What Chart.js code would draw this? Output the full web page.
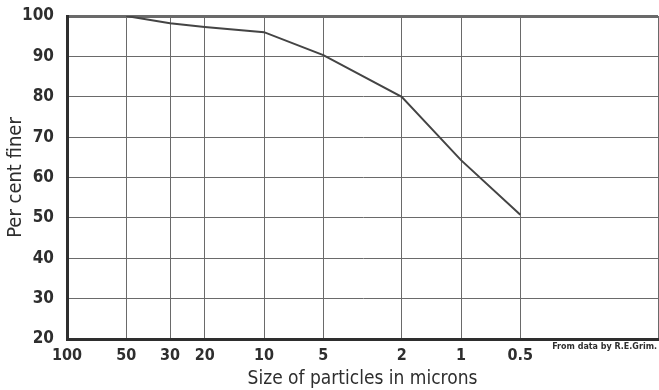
<!DOCTYPE html>
<html lang="en">
<head>
    <meta charset="UTF-8">
    <title>Per cent finer vs size of particles</title>
    <script src="https://cdn.jsdelivr.net/npm/chart.js"></script>
    <style>
        html, body { margin: 0; padding: 0; background: #ffffff; }
        .chart-box { position: relative; width: 659px; height: 390px; }
    </style>
</head>
<body>
    <div class="chart-box"><canvas id="grainChart" width="659" height="390"></canvas></div>

    <script>
        // particle sizes (microns) and cumulative per cent finer
        const sizes = [50, 30, 20, 10, 5, 2, 1, 0.5];
        const percentFiner = [100, 98.2, 97.3, 96, 90.3, 80, 64.3, 50.8];
        const xTicks = [100, 50, 30, 20, 10, 5, 2, 1, 0.5, 0.1];
        const yTicks = [20, 30, 40, 50, 60, 70, 80, 90, 100];
        const sourceNote = "From data by R.E.Grim.";

        const ink = "#2e2e2e";
        const gridInk = "#6a6a6a";
        const narrow = "'DejaVu Sans Condensed', 'Liberation Sans Narrow', 'Roboto Condensed', 'DejaVu Sans', sans-serif";

        const notePlugin = {
            id: "sourceNote",
            afterDraw(chart) {
                const ctx = chart.ctx;
                ctx.save();
                ctx.font = "bold 8px 'DejaVu Sans', sans-serif";
                ctx.fillStyle = ink;
                ctx.textAlign = "right";
                ctx.textBaseline = "top";
                ctx.fillText(sourceNote, chart.chartArea.right - 1, chart.chartArea.bottom + 4);
                ctx.restore();
            }
        };

        const ctx = document.getElementById("grainChart").getContext("2d");
        const grainChart = new Chart(ctx, {
            type: "line",
            data: {
                datasets: [{
                    data: sizes.map((s, i) => ({ x: s, y: percentFiner[i] })),
                    borderColor: "#444444",
                    borderWidth: 2,
                    pointRadius: 0,
                    tension: 0,
                    fill: false
                }]
            },
            options: {
                responsive: false,
                animation: false,
                layout: { padding: { top: 16, right: 1, left: 0, bottom: 0 } },
                plugins: {
                    legend: { display: false },
                    tooltip: { enabled: false }
                },
                scales: {
                    x: {
                        type: "logarithmic",
                        reverse: true,
                        min: 0.1,
                        max: 100,
                        afterBuildTicks(scale) {
                            scale.ticks = xTicks.map(v => ({ value: v }));
                        },
                        afterFit(scale) {
                            scale.height = 51;
                            scale.paddingLeft = 0;
                            scale.paddingRight = 0;
                        },
                        ticks: {
                            autoSkip: false,
                            maxRotation: 0,
                            color: ink,
                            padding: 7,
                            font: { family: narrow, size: 16, weight: "bold" },
                            callback: v => (v === 0.1 ? "" : String(v))
                        },
                        grid: {
                            color: gridInk,
                            lineWidth: 1,
                            drawTicks: false
                        },
                        border: { color: ink, width: 3 },
                        title: {
                            display: true,
                            text: "Size of particles in microns",
                            color: ink,
                            padding: { top: 0, bottom: 0 },
                            font: { family: narrow, size: 19 }
                        }
                    },
                    y: {
                        min: 20,
                        max: 100,
                        afterBuildTicks(scale) {
                            scale.ticks = yTicks.map(v => ({ value: v }));
                        },
                        afterFit(scale) {
                            scale.width = 67;
                            scale.paddingTop = 0;
                            scale.paddingBottom = 0;
                        },
                        ticks: {
                            autoSkip: false,
                            color: ink,
                            padding: 13,
                            font: { family: narrow, size: 17, weight: "bold" }
                        },
                        grid: {
                            color: gridInk,
                            lineWidth: c => (c.tick && c.tick.value === 100 ? 3 : 1),
                            drawTicks: false
                        },
                        border: { color: ink, width: 3 },
                        title: {
                            display: true,
                            text: "Per cent finer",
                            color: ink,
                            padding: { top: 4, bottom: 0 },
                            font: { family: narrow, size: 20 }
                        }
                    }
                }
            },
            plugins: [notePlugin]
        });
    </script>
</body>
</html>
